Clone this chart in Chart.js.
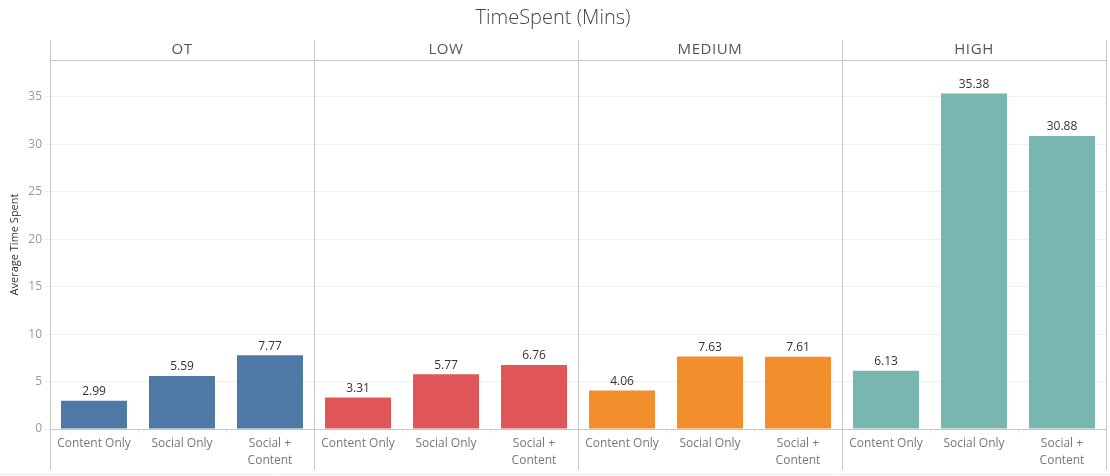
<!DOCTYPE html>
<html>
<head>
<meta charset="utf-8">
<script src="https://cdn.jsdelivr.net/npm/chart.js@4"></script>
<style>
html,body{margin:0;padding:0;background:#fff;}
#wrap{width:1110px;height:476px;position:relative;}
</style>
</head>
<body>
<div id="wrap"><canvas id="c" width="1110" height="476"></canvas></div>
<script>
const groups = ['OT', 'LOW', 'MEDIUM', 'HIGH'];
const types = ['Content Only', 'Social Only', ['Social +', 'Content']];
const otValues = [2.99, 5.59, 7.77];
const lowValues = [3.31, 5.77, 6.76];
const mediumValues = [4.06, 7.63, 7.61];
const highValues = [6.13, 35.38, 30.88];
const groupColors = ['#4e79a7', '#e15759', '#f28e2b', '#79b6b0'];
const yTicks = [0, 5, 10, 15, 20, 25, 30, 35];

const groupValues = [otValues, lowValues, mediumValues, highValues];
const labels = [];
const data = [];
const colors = [];
groupValues.forEach((vals, g) => {
  vals.forEach((v, i) => {
    labels.push(types[i]);
    data.push(v);
    colors.push(groupColors[g]);
  });
});

const FONT = "'Open Sans', sans-serif";

const panelPlugin = {
  id: 'panels',
  afterDraw(chart) {
    const ctx = chart.ctx;
    const x = chart.scales.x;
    const area = chart.chartArea;
    const n = types.length;
    const catW = (x.right - x.left) / labels.length;
    ctx.save();
    ctx.strokeStyle = '#ececec';
    ctx.lineWidth = 1;
    ctx.beginPath();
    ctx.moveTo(0, 474.5); ctx.lineTo(1110, 474.5);
    ctx.stroke();
    ctx.strokeStyle = '#c8c8c8';
    ctx.beginPath();
    ctx.moveTo(area.left, area.top + 0.5);
    ctx.lineTo(area.right, area.top + 0.5);
    ctx.stroke();
    for (let g = 0; g <= groups.length; g++) {
      let px;
      if (g < groups.length) px = x.getPixelForValue(g * n) - catW / 2;
      else px = x.getPixelForValue(labels.length - 1) + catW / 2;
      px = Math.round(px) + 0.5;
      ctx.beginPath();
      ctx.moveTo(px, 40);
      ctx.lineTo(px, 470);
      ctx.stroke();
    }
    ctx.fillStyle = '#555';
    ctx.font = '15px ' + FONT;
    if ('letterSpacing' in ctx) ctx.letterSpacing = '0.6px';
    ctx.textAlign = 'center';
    ctx.textBaseline = 'middle';
    groups.forEach((name, g) => {
      const cx = (x.getPixelForValue(g * n) + x.getPixelForValue(g * n + n - 1)) / 2;
      ctx.fillText(name, cx, 50);
    });
    ctx.restore();
  }
};

const valuePlugin = {
  id: 'values',
  afterDatasetsDraw(chart) {
    const ctx = chart.ctx;
    const meta = chart.getDatasetMeta(0);
    ctx.save();
    ctx.fillStyle = '#333';
    ctx.font = '12px ' + FONT;
    ctx.textAlign = 'center';
    ctx.textBaseline = 'middle';
    meta.data.forEach((bar, i) => {
      ctx.fillText(data[i].toFixed(2), bar.x, bar.y - 9);
    });
    ctx.restore();
  }
};

new Chart(document.getElementById('c'), {
  type: 'bar',
  data: {
    labels: labels,
    datasets: [{
      data: data,
      backgroundColor: colors,
      borderWidth: 0,
      barPercentage: 0.75,
      categoryPercentage: 1.0
    }]
  },
  options: {
    responsive: false,
    animation: false,
    devicePixelRatio: 1,
    layout: { padding: { left: 0, right: 4, top: 0, bottom: 0 } },
    plugins: {
      legend: { display: false },
      tooltip: { enabled: false },
      title: {
        display: true,
        text: 'TimeSpent (Mins)',
        color: '#444',
        font: { family: FONT, size: 20, weight: '300', lineHeight: 1.2 },
        padding: { top: 6, bottom: 30 }
      }
    },
    scales: {
      x: {
        offset: true,
        grid: {
          display: true,
          offset: true,
          drawOnChartArea: false,
          drawTicks: true,
          tickLength: 4,
          color: '#e8e8e8'
        },
        border: { display: true, color: '#c8c8c8' },
        ticks: {
          autoSkip: false,
          maxRotation: 0,
          minRotation: 0,
          padding: 2,
          color: '#777',
          font: { family: FONT, size: 12, lineHeight: 1.4 }
        },
        afterFit(scale) { scale.height = 47; }
      },
      y: {
        min: 0,
        max: 38.9,
        afterBuildTicks(scale) { scale.ticks = yTicks.map(v => ({ value: v })); },
        grid: { color: '#f0f0f0', drawTicks: true, tickLength: 5 },
        border: { display: false },
        ticks: {
          padding: 3,
          color: '#999',
          font: { family: FONT, size: 12 }
        },
        title: {
          display: true,
          text: 'Average Time Spent',
          color: '#333',
          font: { family: FONT, size: 11 },
          padding: { top: 8, bottom: 0 }
        },
        afterFit(scale) { scale.width = 50; }
      }
    }
  },
  plugins: [panelPlugin, valuePlugin]
});
</script>
</body>
</html>
